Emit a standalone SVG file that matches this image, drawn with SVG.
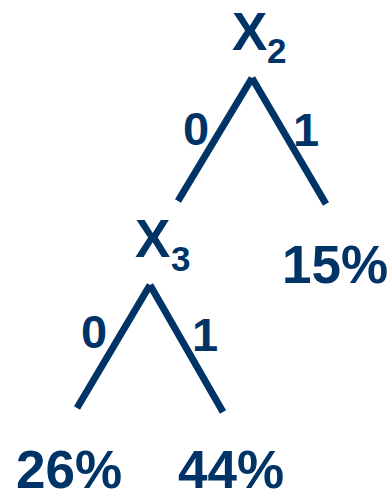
<svg xmlns="http://www.w3.org/2000/svg" width="387" height="492" viewBox="0 0 387 492">
<style>
text{font-family:"Liberation Sans",Arial,sans-serif;font-weight:bold;fill:#003366}
.v{font-size:53px}.s{font-size:35px}.e{font-size:47px}.p{font-size:53px}
line{stroke:#003366;stroke-width:7;stroke-linecap:butt}
</style>
<rect width="387" height="492" fill="#ffffff"/>
<g id="connectors">
<line x1="252" y1="78" x2="178" y2="201"/>
<line x1="252" y1="78" x2="326" y2="204"/>
<line x1="150" y1="285" x2="77" y2="408"/>
<line x1="150" y1="285" x2="223" y2="412"/>
<text class="e" x="183" y="145">0</text>
<text class="e" x="293" y="146">1</text>
<text class="e" x="81" y="348">0</text>
<text class="e" x="192" y="351">1</text>
</g>
<g id="x2"><text class="v" x="232" y="50">X</text><text class="s" x="267" y="63">2</text></g>
<g id="x3"><text class="v" x="135" y="257">X</text><text class="s" x="171" y="271">3</text></g>
<g id="leaf15"><text class="p" x="282" y="283">15%</text></g>
<g id="leaf26"><text class="p" x="16" y="488">26%</text></g>
<g id="leaf44"><text class="p" x="178" y="488">44%</text></g>
</svg>
